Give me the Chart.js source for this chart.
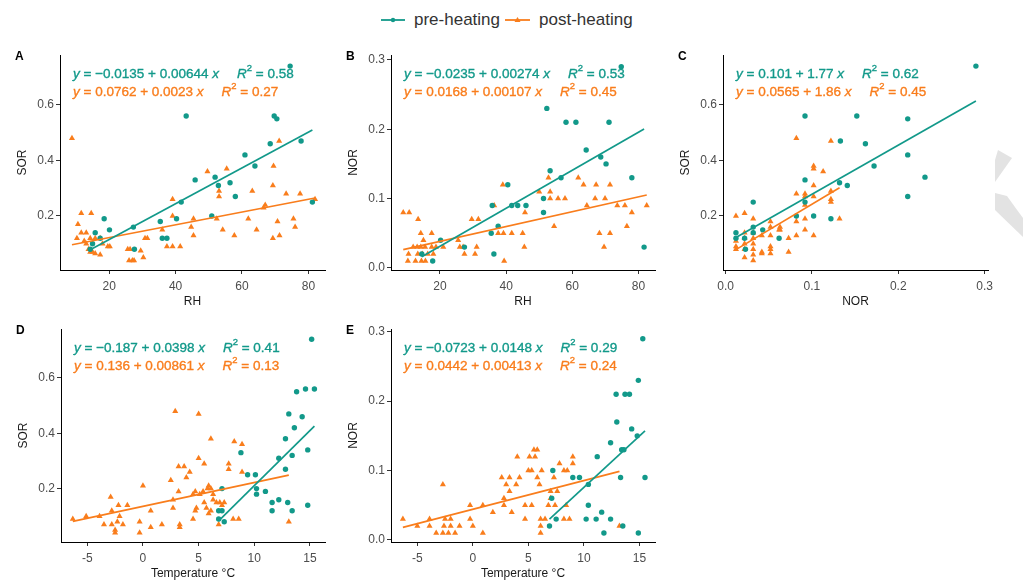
<!DOCTYPE html>
<html>
<head>
<meta charset="utf-8">
<script src="https://cdn.jsdelivr.net/npm/chart.js@4.4.0/dist/chart.umd.min.js"></script>
<style>
  body { margin: 0; width: 1023px; height: 581px; background: #fff; position: relative; overflow: hidden; font-family: "Liberation Sans", Arial, sans-serif; }
  canvas { position: absolute; }
  #legend { position: absolute; top: 10px; left: 381px; height: 20px; display: flex; align-items: center; font-size: 17px; color: #333; white-space: nowrap; }
  #legend svg { margin-right: 9px; }
  #mark { position: absolute; left: 990px; top: 145px; }
</style>
</head>
<body>
<div id="legend">
  <svg width="24" height="10"><line x1="0" y1="5" x2="24" y2="5" stroke="#12998a" stroke-width="1.8"/><circle cx="12" cy="5" r="2.2" fill="#12998a"/></svg><span>pre-heating</span>
  <svg width="25" height="10" style="margin-left:5px"><line x1="0" y1="5" x2="25" y2="5" stroke="#f97d1c" stroke-width="1.8"/><polygon points="12.5,2 15.5,7 9.5,7" fill="#f97d1c"/></svg><span>post-heating</span>
</div>
<svg id="mark" width="33" height="95"><polygon points="8,5 22,13 5,37 5,15" fill="#e3e3e3"/><polygon points="5,48 17,51 33,73 33,92 5,65" fill="#e3e3e3"/></svg>
<canvas id="pA"></canvas>
<canvas id="pB"></canvas>
<canvas id="pC"></canvas>
<canvas id="pD"></canvas>
<canvas id="pE"></canvas>

<script>
    // tick positions
    const rhTicks = [20, 40, 60, 80]
    const sorTicks = [0.2, 0.4, 0.6]
    const norTicks = [0.0, 0.1, 0.2, 0.3]
    const tempTicks = [-5, 0, 5, 10, 15]

    // A: RH vs SOR
    const rhPreA = [74.5, 43.2, 69.7, 70.5, 68.5, 77.8, 60.9, 63.9, 45.9, 51.9, 52.9, 56.4, 58.0, 41.7, 81.2, 50.9, 35.4, 40.3, 36.0, 37.4, 18.5, 20.1, 15.8, 17.3, 27.3, 27.6, 14.3, 15.0]
    const sorPreA = [0.74, 0.56, 0.56, 0.55, 0.46, 0.47, 0.42, 0.38, 0.33, 0.34, 0.31, 0.32, 0.27, 0.25, 0.25, 0.20, 0.18, 0.19, 0.12, 0.12, 0.19, 0.15, 0.14, 0.12, 0.16, 0.08, 0.08, 0.10]
    const rhPostA = [8.8, 71.2, 49.6, 55.4, 69.5, 39.1, 53.1, 53.1, 63.1, 69.3, 73.3, 77.5, 82.0, 67.0, 66.5, 52.4, 45.4, 39.1, 61.9, 70.7,
        75.5, 76.0, 44.7, 45.4, 54.2, 57.7, 64.4, 71.3, 69.3, 36.0, 37.4, 39.1, 41.4, 30.8, 31.5, 29.5, 30.3, 25.6, 26.3, 26.0,
        27.0, 27.5, 11.6, 14.6, 10.6, 11.6, 13.1, 10.3, 14.3, 15.8, 17.3, 13.1, 13.8, 14.3, 15.0, 15.8, 17.3, 18.0, 19.6, 20.2, 12.5]
    const sorPostA = [0.48, 0.47, 0.36, 0.37, 0.38, 0.26, 0.29, 0.27, 0.29, 0.31, 0.28, 0.28, 0.26, 0.24, 0.23, 0.19, 0.19, 0.20, 0.19, 0.18,
        0.19, 0.16, 0.16, 0.13, 0.15, 0.13, 0.15, 0.13, 0.12, 0.15, 0.09, 0.09, 0.09, 0.12, 0.12, 0.075, 0.05, 0.08, 0.08, 0.04,
        0.04, 0.04, 0.21, 0.21, 0.17, 0.14, 0.14, 0.12, 0.12, 0.12, 0.12, 0.10, 0.08, 0.07, 0.07, 0.065, 0.06, 0.10, 0.09, 0.09, 0.11]

    // B: RH vs NOR
    const rhPreB = [74.8, 52.3, 58.1, 61.1, 71.1, 64.2, 68.6, 70.2, 53.3, 56.6, 78.0, 40.5, 51.3, 41.7, 43.5, 46.0, 35.8, 51.3, 37.6, 35.5, 20.2, 36.3, 27.4, 81.7, 17.8, 14.5]
    const norPreB = [0.29, 0.23, 0.21, 0.21, 0.21, 0.17, 0.16, 0.15, 0.14, 0.13, 0.13, 0.12, 0.10, 0.09, 0.09, 0.09, 0.09, 0.08, 0.06, 0.05, 0.04, 0.02, 0.03, 0.03, 0.01, 0.02]
    const rhPostB = [8.9, 10.7, 13.4, 14.2, 17.5, 15.0, 11.9, 13.1, 14.2, 15.5, 10.5, 13.3, 14.7, 16.3, 10.3, 12.6, 14.4, 15.6, 17.5, 18.8,
        21.0, 18.0, 29.6, 31.6, 25.5, 26.0, 27.0, 27.4, 30.6, 31.1, 36.4, 39.0, 37.6, 39.2, 41.7, 39.4, 45.0, 45.7, 45.5, 50.0,
        52.8, 53.3, 53.3, 54.5, 55.7, 57.8, 61.8, 63.4, 64.4, 66.9, 67.2, 68.2, 69.6, 69.9, 71.4, 71.4, 73.6, 75.9, 76.5, 78.0, 82.5]
    const norPostB = [0.08, 0.08, 0.07, 0.05, 0.05, 0.04, 0.03, 0.03, 0.03, 0.03, 0.02, 0.02, 0.02, 0.02, 0.01, 0.01, 0.01, 0.01, 0.03, 0.03,
        0.03, 0.02, 0.07, 0.07, 0.04, 0.03, 0.03, 0.02, 0.02, 0.03, 0.09, 0.12, 0.05, 0.05, 0.05, 0.01, 0.05, 0.08, 0.03, 0.11,
        0.13, 0.11, 0.10, 0.06, 0.10, 0.10, 0.13, 0.12, 0.09, 0.10, 0.12, 0.05, 0.03, 0.10, 0.12, 0.05, 0.09, 0.09, 0.06, 0.08, 0.09]

    // C: NOR vs SOR
    const norPreC = [0.29, 0.092, 0.152, 0.211, 0.162, 0.133, 0.211, 0.172, 0.231, 0.092, 0.141, 0.132, 0.211, 0.092, 0.032, 0.102, 0.082, 0.122, 0.032, 0.043, 0.012, 0.022, 0.062, 0.023, 0.012, 0.032]
    const sorPreC = [0.74, 0.56, 0.56, 0.55, 0.46, 0.47, 0.42, 0.38, 0.34, 0.33, 0.31, 0.32, 0.27, 0.25, 0.25, 0.20, 0.20, 0.19, 0.16, 0.15, 0.14, 0.12, 0.12, 0.08, 0.12, 0.14]
    const norPostC = [0.082, 0.122, 0.102, 0.102, 0.113, 0.102, 0.082, 0.092, 0.092, 0.102, 0.122, 0.122, 0.122, 0.092, 0.082, 0.082, 0.092, 0.092, 0.102, 0.132,
        0.012, 0.022, 0.032, 0.052, 0.052, 0.063, 0.063, 0.052, 0.073, 0.073, 0.012, 0.012, 0.012, 0.022, 0.022, 0.022, 0.022, 0.022, 0.032, 0.032,
        0.032, 0.032, 0.032, 0.032, 0.042, 0.042, 0.052, 0.052, 0.052, 0.042, 0.062]
    const sorPostC = [0.48, 0.47, 0.38, 0.37, 0.36, 0.31, 0.28, 0.28, 0.27, 0.27, 0.29, 0.26, 0.25, 0.24, 0.18, 0.13, 0.19, 0.15, 0.13, 0.19,
        0.20, 0.21, 0.19, 0.18, 0.16, 0.16, 0.15, 0.13, 0.12, 0.07, 0.11, 0.09, 0.08, 0.14, 0.12, 0.10, 0.08, 0.05, 0.14, 0.12,
        0.10, 0.08, 0.06, 0.04, 0.07, 0.065, 0.09, 0.08, 0.065, 0.13, 0.15]

    // D: temperature vs SOR
    const tempPreD = [15.15, 13.8, 14.6, 15.4, 13.1, 14.3, 13.6, 12.8, 14.8, 8.8, 13.4, 12.2, 12.8, 9.4, 10.1, 10.2, 10.2, 11.0, 7.1, 11.6, 12.2, 13.0, 11.6, 13.4, 14.8, 6.8, 7.1, 6.8, 7.3]
    const sorPreD = [0.74, 0.55, 0.56, 0.56, 0.47, 0.46, 0.42, 0.38, 0.34, 0.33, 0.32, 0.31, 0.27, 0.25, 0.25, 0.20, 0.18, 0.19, 0.20, 0.15, 0.16, 0.15, 0.12, 0.12, 0.14, 0.12, 0.12, 0.09, 0.08]
    const tempPostD = [2.9, 5.0, 6.1, 8.2, 8.9, 5.0, 5.5, 3.2, 3.7, 7.7, 7.7, 2.5, 3.9, 4.2, 8.9, 0.0, -2.9, 2.7, 3.2, -2.2,
        -1.4, -2.8, 2.7, 4.5, 4.7, 5.1, 5.4, 5.8, 5.9, 6.1, 6.3, 5.5, 5.7, 6.1, 4.8, 4.7, 6.3, 6.6, 6.9, 5.9,
        -6.3, -5.1, -3.9, -3.5, -2.8, -2.3, -2.1, -2.5, -2.5, -1.8, -0.3, -0.3, 0.7, 1.7, 0.7, 3.3, 3.3, 4.5, 6.8, 8.1, 8.6, 13.1, 7.3, 7.1]
    const sorPostD = [0.48, 0.47, 0.38, 0.37, 0.36, 0.31, 0.29, 0.28, 0.28, 0.29, 0.27, 0.23, 0.24, 0.26, 0.26, 0.21, 0.17, 0.16, 0.19, 0.14,
        0.14, 0.12, 0.13, 0.18, 0.19, 0.18, 0.19, 0.20, 0.21, 0.20, 0.18, 0.15, 0.13, 0.12, 0.13, 0.12, 0.16, 0.15, 0.15, 0.11,
        0.09, 0.10, 0.10, 0.07, 0.07, 0.08, 0.10, 0.05, 0.04, 0.07, 0.08, 0.04, 0.06, 0.07, 0.12, 0.07, 0.06, 0.09, 0.07, 0.09, 0.09, 0.08, 0.15, 0.14]

    // E: temperature vs NOR
    const tempPreE = [15.3, 14.9, 12.9, 13.7, 14.1, 12.96, 14.3, 14.8, 12.4, 13.4, 13.6, 11.2, 7.2, 9.0, 9.6, 13.3, 15.5, 10.4, 7.1, 10.4, 11.6, 10.2, 11.1, 12.4, 7.5, 11.8, 14.9, 13.5, 6.9]
    const norPreE = [0.29, 0.23, 0.21, 0.21, 0.21, 0.17, 0.16, 0.15, 0.14, 0.13, 0.13, 0.12, 0.10, 0.09, 0.09, 0.09, 0.09, 0.08, 0.06, 0.05, 0.04, 0.03, 0.03, 0.03, 0.03, 0.01, 0.01, 0.02, 0.02]
    const tempPostE = [-6.3, -5.0, -3.9, -3.9, -2.7, -3.3, -2.7, -2.2, -1.6, -2.5, -2.0, -2.6, -2.0, -1.2, -0.25, -0.25, 0.0, 0.9, 0.9, 1.8,
        2.6, 3.3, 3.0, 2.8, 2.8, 3.3, 3.5, 3.9, 4.0, 4.2, 4.7, 4.7, 5.1, 5.6, 5.0, 5.3, 5.5, 5.8, 5.3, 5.8,
        6.0, 6.2, 6.1, 6.1, 6.1, 6.5, 6.8, 7.0, 7.0, 7.3, 7.4, 7.6, 7.8, 8.2, 8.5, 8.4, 8.2, 8.7, 9.0, 9.0, 13.2]
    const norPostE = [0.03, 0.02, 0.03, 0.02, 0.08, 0.01, 0.01, 0.01, 0.01, 0.03, 0.03, 0.02, 0.02, 0.02, 0.05, 0.03, 0.02, 0.05, 0.01, 0.04,
        0.09, 0.09, 0.08, 0.06, 0.05, 0.07, 0.04, 0.08, 0.12, 0.09, 0.05, 0.03, 0.12, 0.12, 0.10, 0.10, 0.13, 0.13, 0.05, 0.09,
        0.08, 0.10, 0.03, 0.02, 0.01, 0.03, 0.05, 0.07, 0.06, 0.09, 0.05, 0.07, 0.11, 0.10, 0.10, 0.05, 0.03, 0.03, 0.12, 0.11, 0.02]

    // fitted lines per panel (A..E)
    const preIntercept = [-0.0135, -0.0235, 0.101, -0.187, -0.0723]
    const preSlope = [0.00644, 0.00274, 1.77, 0.0398, 0.0148]
    const preR2 = [0.58, 0.53, 0.62, 0.41, 0.29]
    const postIntercept = [0.0762, 0.0168, 0.0565, 0.136, 0.0442]
    const postSlope = [0.0023, 0.00107, 1.86, 0.00861, 0.00413]
    const postR2 = [0.27, 0.45, 0.45, 0.13, 0.24]

    const TEAL = '#12998a'
    const ORANGE = '#f97d1c'
    const FONT = '"Liberation Sans", Arial, sans-serif'
    const YW = 60, XH = 42, PT = 16, PR = 16

    const panels = [
        { id: 'pA', letter: 'A', box: [60, 55, 325, 270], preX: rhPreA, preY: sorPreA, postX: rhPostA, postY: sorPostA,
          x: { min: 5.2, max: 85, ticks: rhTicks, dec: 0, title: 'RH' }, y: { min: 0.0054, max: 0.78, ticks: sorTicks, dec: 1, title: 'SOR' } },
        { id: 'pB', letter: 'B', box: [391, 55, 655, 270], preX: rhPreB, preY: norPreB, postX: rhPostB, postY: norPostB,
          x: { min: 5.2, max: 85, ticks: rhTicks, dec: 0, title: 'RH' }, y: { min: -0.003, max: 0.307, ticks: norTicks, dec: 1, title: 'NOR' } },
        { id: 'pC', letter: 'C', box: [723, 55, 988, 270], preX: norPreC, preY: sorPreC, postX: norPostC, postY: sorPostC,
          x: { min: -0.003, max: 0.304, ticks: norTicks, dec: 1, title: 'NOR' }, y: { min: 0.0054, max: 0.78, ticks: sorTicks, dec: 1, title: 'SOR' } },
        { id: 'pD', letter: 'D', box: [61, 329, 325, 542], preX: tempPreD, preY: sorPreD, postX: tempPostD, postY: sorPostD,
          x: { min: -7.36, max: 16.35, ticks: tempTicks, dec: 0, title: 'Temperature °C' }, y: { min: 0.007, max: 0.777, ticks: sorTicks, dec: 1, title: 'SOR' } },
        { id: 'pE', letter: 'E', box: [391, 329, 655, 542], preX: tempPreE, preY: norPreE, postX: tempPostE, postY: norPostE,
          x: { min: -7.37, max: 16.4, ticks: tempTicks, dec: 0, title: 'Temperature °C' }, y: { min: -0.003, max: 0.304, ticks: norTicks, dec: 1, title: 'NOR' } }
    ]

    function pts(xs, ys) {
        return xs.map((x, i) => ({ x: x, y: ys[i] }))
    }

    function fitLine(xs, a, b) {
        const lo = Math.min(...xs), hi = Math.max(...xs)
        return [{ x: lo, y: a + b * lo }, { x: hi, y: a + b * hi }]
    }

    // equation label: y = a + b x   R² = r2
    function drawEq(ctx, x, y, a, b, r2, color) {
        const size = 13.5
        const runs = [
            ['y', 'i'], [' = ' + (a < 0 ? '−' : '') + Math.abs(a) + ' + ' + b + ' ', 'n'], ['x', 'i'], ['gap', 'gap'],
            ['R', 'i'], ['2', 'sup'], [' = ' + r2.toFixed(2), 'n']
        ]
        ctx.fillStyle = color
        ctx.strokeStyle = color
        ctx.lineWidth = 0.35
        ctx.textBaseline = 'middle'
        ctx.textAlign = 'left'
        let cx = x
        runs.forEach(r => {
            if (r[1] === 'gap') { cx += 18; return }
            let dy = 0
            if (r[1] === 'sup') {
                ctx.font = (size * 0.7) + 'px ' + FONT
                dy = -size * 0.38
            } else {
                ctx.font = (r[1] === 'i' ? 'italic ' : '') + size + 'px ' + FONT
            }
            ctx.fillText(r[0], cx, y + dy)
            ctx.strokeText(r[0], cx, y + dy)
            cx += ctx.measureText(r[0]).width
        })
    }

    const panelText = {
        id: 'panelText',
        afterDatasetsDraw(chart, args, opts) {
            const { ctx, chartArea } = chart
            const i = opts.index
            ctx.save()
            ctx.fillStyle = '#000'
            ctx.font = 'bold 12px ' + FONT
            ctx.textBaseline = 'middle'
            ctx.fillText(opts.letter, chartArea.left - 45, chartArea.top + 2)
            drawEq(ctx, chartArea.left + 13, chartArea.top + 19, preIntercept[i], preSlope[i], preR2[i], TEAL)
            drawEq(ctx, chartArea.left + 13, chartArea.top + 37, postIntercept[i], postSlope[i], postR2[i], ORANGE)
            ctx.restore()
        }
    }

    function axis(cfg, horizontal) {
        return {
            type: 'linear',
            min: cfg.min,
            max: cfg.max,
            afterBuildTicks: s => { s.ticks = cfg.ticks.map(v => ({ value: v })) },
            afterFit: s => { if (horizontal) s.height = XH; else s.width = YW },
            ticks: {
                color: '#4d4d4d', font: { size: 12, family: FONT }, padding: horizontal ? 5 : 2,
                autoSkip: false, maxRotation: 0,
                callback: v => v.toFixed(cfg.dec)
            },
            grid: { display: true, drawOnChartArea: false, drawTicks: true, tickLength: 4, color: '#333', lineWidth: 1 },
            border: { display: true, color: '#000', width: 1 },
            title: {
                display: true, text: cfg.title, color: '#1a1a1a', font: { size: 12, family: FONT },
                padding: horizontal ? { top: 0, bottom: 3 } : { top: 15, bottom: 0 }
            }
        }
    }

    panels.forEach((p, i) => {
        const [l, t, r, b] = p.box
        const cv = document.getElementById(p.id)
        cv.width = (r - l) + YW + PR
        cv.height = (b - t) + PT + XH
        cv.style.left = (l - YW) + 'px'
        cv.style.top = (t - PT) + 'px'
        new Chart(cv, {
            type: 'scatter',
            data: {
                datasets: [
                    { type: 'line', data: fitLine(p.preX, preIntercept[i], preSlope[i]), borderColor: TEAL, borderWidth: 1.7, pointRadius: 0, fill: false },
                    { type: 'line', data: fitLine(p.postX, postIntercept[i], postSlope[i]), borderColor: ORANGE, borderWidth: 1.7, pointRadius: 0, fill: false },
                    { data: pts(p.preX, p.preY), backgroundColor: TEAL, borderWidth: 0, pointRadius: 2.7, pointStyle: 'circle' },
                    { data: pts(p.postX, p.postY), backgroundColor: ORANGE, borderWidth: 0, pointRadius: 3.5, pointStyle: 'triangle' }
                ]
            },
            options: {
                responsive: false,
                animation: false,
                events: [],
                layout: { padding: { left: 0, top: PT, right: PR, bottom: 0 } },
                plugins: {
                    legend: { display: false },
                    tooltip: { enabled: false },
                    panelText: { index: i, letter: p.letter }
                },
                scales: { x: axis(p.x, true), y: axis(p.y, false) }
            },
            plugins: [panelText]
        })
    })
</script>
</body>
</html>
